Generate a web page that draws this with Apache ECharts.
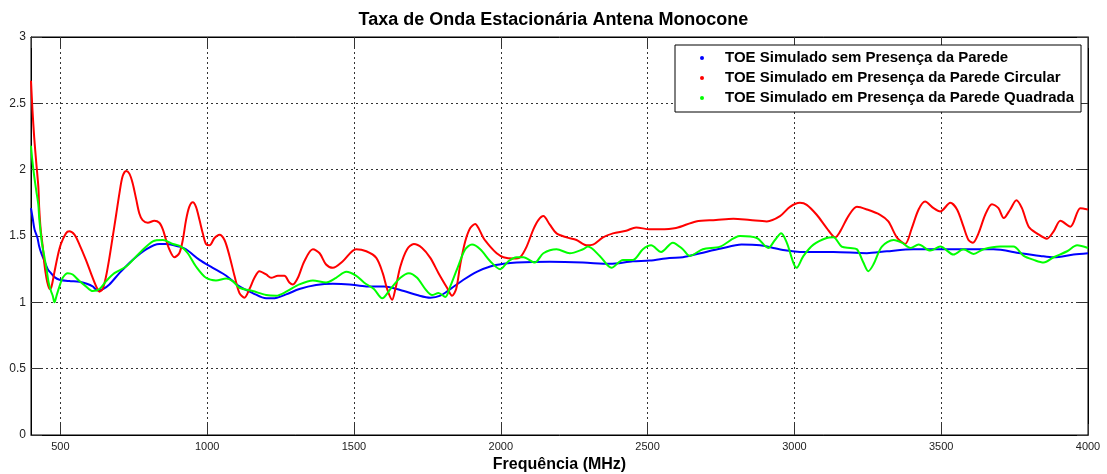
<!DOCTYPE html>
<html>
<head>
<meta charset="utf-8">
<script src="https://cdn.jsdelivr.net/npm/echarts@6/dist/echarts.min.js"></script>
<style>html,body{margin:0;padding:0;background:#fff}#c{width:1107px;height:474px}</style>
</head>
<body>
<div id="c"></div>
<script>
// Frequency (MHz) and VSWR values
const seriesNames = [
  'TOE Simulado sem Presença da Parede',
  'TOE Simulado em Presença da Parede Circular',
  'TOE Simulado em Presença da Parede Quadrada'
];
const xTicks = [500, 1000, 1500, 2000, 2500, 3000, 3500, 4000];

const blueFreq = [400,406,412,422,428,435,445,457,468,480,497,530,565,590,610,627,645,667,701,746,792,837,860,905,928,974,1019,1065,1110,1155,1201,1224,1269,1314,1371,1428,1485,1542,1602,1670,1715,1760,1794,1828,1873,1918,1964,2009,2054,2167,2280,2371,2450,2507,2574,2620,2680,2750,2820,2883,2928,2974,3019,3133,3247,3315,3406,3497,3588,3678,3770,3838,3883,3951,4000];
const blueToe = [1.71,1.63,1.55,1.485,1.42,1.37,1.315,1.25,1.22,1.19,1.17,1.16,1.155,1.14,1.12,1.09,1.10,1.135,1.22,1.32,1.40,1.44,1.44,1.42,1.40,1.32,1.26,1.20,1.12,1.07,1.03,1.03,1.06,1.10,1.13,1.14,1.135,1.12,1.12,1.085,1.055,1.035,1.05,1.10,1.17,1.23,1.27,1.29,1.30,1.305,1.30,1.29,1.31,1.315,1.335,1.34,1.37,1.405,1.435,1.43,1.41,1.39,1.38,1.38,1.37,1.385,1.40,1.40,1.40,1.40,1.37,1.35,1.34,1.36,1.37];

const redFreq = [400,405,411,418,425,428,433,441,445,452,458,464,470,480,491,502,519,530,548,565,587,604,622,633,644,656,667,678,690,701,712,724,735,746,758,769,780,798,820,837,849,860,871,888,905,917,928,939,951,962,974,985,996,1008,1025,1042,1059,1076,1093,1110,1127,1144,1161,1178,1201,1218,1241,1263,1280,1292,1309,1331,1360,1383,1405,1428,1462,1507,1542,1576,1598,1613,1630,1641,1658,1681,1704,1732,1760,1788,1817,1834,1848,1862,1879,1896,1913,1924,1941,1964,1986,2009,2043,2066,2088,2111,2128,2145,2167,2190,2224,2258,2292,2314,2348,2382,2427,2461,2507,2541,2597,2665,2733,2792,2849,2906,2951,2985,3019,3042,3076,3110,3139,3156,3184,3213,3247,3292,3320,3349,3377,3400,3423,3445,3474,3497,3531,3554,3576,3593,3608,3627,3650,3673,3695,3713,3735,3756,3775,3798,3826,3860,3883,3906,3940,3974,4000];
const redToe = [2.67,2.45,2.24,2.05,1.87,1.71,1.55,1.40,1.30,1.19,1.13,1.10,1.12,1.23,1.35,1.44,1.52,1.535,1.51,1.435,1.32,1.22,1.12,1.08,1.10,1.20,1.335,1.49,1.66,1.82,1.95,1.99,1.97,1.90,1.78,1.67,1.62,1.60,1.615,1.60,1.55,1.47,1.40,1.34,1.37,1.47,1.62,1.72,1.755,1.72,1.62,1.52,1.44,1.43,1.485,1.51,1.47,1.35,1.20,1.07,1.035,1.10,1.185,1.235,1.21,1.185,1.20,1.20,1.15,1.135,1.185,1.31,1.40,1.37,1.285,1.26,1.31,1.40,1.385,1.335,1.22,1.10,1.02,1.10,1.27,1.40,1.44,1.41,1.335,1.22,1.11,1.05,1.10,1.285,1.46,1.56,1.59,1.56,1.485,1.42,1.37,1.34,1.33,1.34,1.42,1.55,1.62,1.65,1.585,1.52,1.49,1.47,1.43,1.435,1.49,1.52,1.54,1.565,1.55,1.55,1.56,1.61,1.62,1.63,1.62,1.61,1.65,1.72,1.75,1.735,1.66,1.56,1.49,1.535,1.65,1.72,1.70,1.66,1.61,1.49,1.44,1.56,1.70,1.76,1.71,1.685,1.75,1.70,1.57,1.47,1.45,1.52,1.66,1.74,1.71,1.635,1.70,1.77,1.71,1.57,1.52,1.48,1.535,1.615,1.57,1.71,1.70];

const greenFreq = [400,405,411,418,425,428,437,445,453,460,468,474,480,487,497,508,525,542,565,587,610,633,656,684,724,769,815,849,883,911,934,962,996,1030,1065,1087,1110,1155,1201,1235,1269,1314,1360,1405,1439,1474,1508,1534,1568,1596,1624,1658,1687,1715,1743,1766,1788,1811,1828,1851,1879,1902,1930,1964,1998,2026,2054,2077,2116,2145,2190,2235,2280,2297,2337,2377,2416,2450,2484,2512,2546,2586,2620,2643,2688,2747,2815,2872,2911,2934,2955,2974,3008,3031,3065,3110,3133,3161,3190,3213,3235,3252,3269,3298,3338,3366,3395,3423,3463,3497,3542,3576,3610,3644,3701,3746,3781,3815,3849,3883,3929,3963,4000];
const greenToe = [2.18,2.06,1.95,1.84,1.735,1.635,1.45,1.35,1.25,1.15,1.085,1.05,1.00,1.05,1.12,1.185,1.22,1.21,1.16,1.12,1.085,1.10,1.16,1.22,1.27,1.37,1.46,1.47,1.44,1.42,1.37,1.27,1.185,1.165,1.18,1.16,1.11,1.085,1.055,1.05,1.08,1.135,1.165,1.15,1.185,1.23,1.20,1.15,1.10,1.03,1.10,1.185,1.22,1.185,1.10,1.055,1.07,1.04,1.12,1.25,1.40,1.435,1.40,1.31,1.25,1.31,1.34,1.34,1.30,1.37,1.40,1.37,1.40,1.42,1.35,1.26,1.32,1.32,1.40,1.43,1.38,1.45,1.40,1.35,1.40,1.42,1.50,1.485,1.41,1.47,1.52,1.45,1.26,1.35,1.435,1.485,1.49,1.42,1.41,1.40,1.30,1.235,1.285,1.42,1.47,1.45,1.41,1.435,1.39,1.42,1.36,1.40,1.365,1.40,1.42,1.42,1.35,1.32,1.30,1.34,1.385,1.43,1.41];

const colors = ['#0000ff', '#ff0000', '#00ff00'];

function pairs(fx, vy) { return fx.map((f, i) => [f, vy[i]]); }

const chart = echarts.init(document.getElementById('c'), null, { renderer: 'canvas' });
const gridLine = { show: true, lineStyle: { color: '#333', type: [2, 3], width: 1 } };
const font = 'Arial, "Liberation Sans", sans-serif';

chart.setOption({
  animation: false,
  backgroundColor: '#fff',
  title: {
    text: 'Taxa de Onda Estacionária Antena Monocone',
    left: 'center', top: 6,
    textStyle: { fontFamily: font, fontWeight: 'bold', fontSize: 18, color: '#000' }
  },
  legend: {
    orient: 'vertical',
    left: 675, top: 45,
    backgroundColor: '#fff',
    borderColor: '#000', borderWidth: 1, borderRadius: 0,
    padding: [3, 7, 4, 25],
    itemGap: 0,
    itemWidth: 4, itemHeight: 4,
    icon: 'circle',
    textStyle: { fontFamily: font, fontWeight: 'bold', fontSize: 15, color: '#000', lineHeight: 20, padding: [0, 0, 0, 16] },
    data: seriesNames
  },
  grid: { left: 31, right: 19, top: 37, bottom: 39, show: true, borderColor: '#000', borderWidth: 1,
    containLabel: false, outerBoundsMode: 'none' },
  xAxis: [{
    type: 'value', min: 400, max: 4000, splitNumber: 7, minInterval: 500, maxInterval: 500,
    name: 'Frequência (MHz)', nameLocation: 'middle', nameGap: 20,
    nameTextStyle: { fontFamily: font, fontWeight: 'bold', fontSize: 16, color: '#000' },
    axisLine: { show: true, onZero: false, lineStyle: { color: '#000' } },
    axisTick: { show: true, inside: true, length: 11, lineStyle: { color: '#333' } },
    axisLabel: { showMinLabel: false, fontFamily: font, fontSize: 11, color: '#222', margin: 6,
      formatter: v => (xTicks.indexOf(v) >= 0 ? String(v) : '') },
    splitLine: gridLine
  }, {
    type: 'value', min: 400, max: 4000, splitNumber: 7, minInterval: 500, maxInterval: 500, position: 'top',
    axisLine: { show: true, onZero: false, lineStyle: { color: '#000' } },
    axisTick: { show: true, inside: true, length: 11, lineStyle: { color: '#333' } },
    axisLabel: { show: false }, splitLine: { show: false }
  }],
  yAxis: [{
    type: 'value', min: 0, max: 3, interval: 0.5,
    axisLine: { show: true, onZero: false, lineStyle: { color: '#000' } },
    axisTick: { show: true, inside: true, length: 11, lineStyle: { color: '#333' } },
    axisLabel: { fontFamily: font, fontSize: 12, color: '#222', margin: 5 },
    splitLine: gridLine
  }, {
    type: 'value', min: 0, max: 3, interval: 0.5, position: 'right',
    axisLine: { show: true, onZero: false, lineStyle: { color: '#000' } },
    axisTick: { show: true, inside: true, length: 11, lineStyle: { color: '#333' } },
    axisLabel: { show: false }, splitLine: { show: false }
  }],
  series: [
    { name: seriesNames[0], type: 'line', data: pairs(blueFreq, blueToe) },
    { name: seriesNames[1], type: 'line', data: pairs(redFreq, redToe) },
    { name: seriesNames[2], type: 'line', data: pairs(greenFreq, greenToe) }
  ].map((s, i) => Object.assign(s, {
    xAxisIndex: 0, yAxisIndex: 0, smooth: 0.3, showSymbol: false, symbol: 'circle', symbolSize: 4,
    color: colors[i], lineStyle: { color: colors[i], width: 2 }, itemStyle: { color: colors[i] }
  }))
});
</script>
</body>
</html>
